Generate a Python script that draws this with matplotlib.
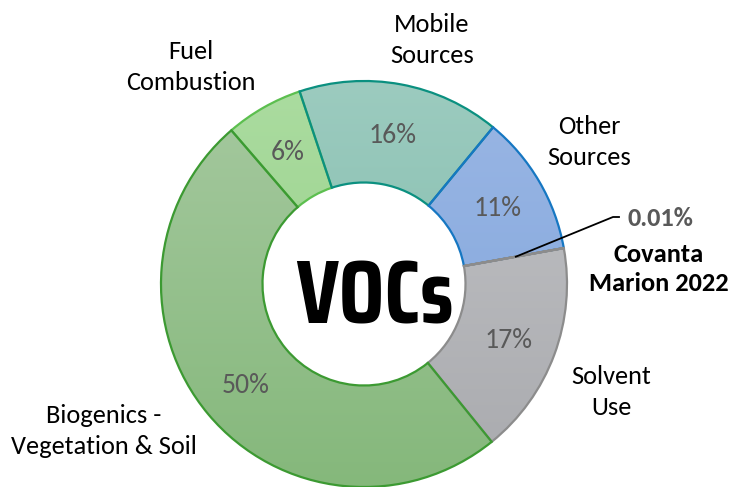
import numpy as np
import matplotlib
matplotlib.use("Agg")
import matplotlib.pyplot as plt
from matplotlib.colors import LinearSegmentedColormap

# data (clockwise from the Fuel Combustion slice)
sources = ["Fuel\nCombustion", "Mobile\nSources", "Other\nSources", "Covanta\nMarion 2022",
           "Solvent\nUse", "Biogenics -\nVegetation & Soil"]
shares = [6.2, 16.1, 11.2, 0.01, 17.0, 49.5]
pct_text = ["6%", "16%", "11%", "0.01%", "17%", "50%"]

# styling
top_cols = ["#abdca0", "#9ccbbf", "#9ab6e4", "#c2c3c6", "#c2c3c6", "#a6c9a0"]
bot_cols = ["#93cd84", "#7bb8a7", "#7fa5dc", "#a9aaae", "#a9aaae", "#85b87b"]
edge_cols = ["#5cbf4f", "#0b9080", "#1677c2", "#8c8c8c", "#8c8c8c", "#3c9a32"]
label_pos = [(191, 420), (432, 447), (589, 345), None, (611, 95), (104, 56)]
font = ["Carlito", "Lato", "DejaVu Sans"]

fig = plt.figure(figsize=(7.3, 4.87), dpi=100)
ax = fig.add_axes([0, 0, 1, 1])

cx, cy, R = 364, 203, 203
wedges, _ = ax.pie(shares, startangle=130.8, counterclock=False, center=(cx, cy),
                   radius=R, frame=True,
                   wedgeprops=dict(width=R * 0.5, linewidth=1.6))
ax.set_xlim(0, 730)
ax.set_ylim(0, 487)
ax.axis("off")

# vertical gradient fill clipped to each wedge
grad = np.linspace(0, 1, 256).reshape(-1, 1)
for w, t, b, e in zip(wedges, top_cols, bot_cols, edge_cols):
    w.set_facecolor("none")
    w.set_edgecolor(e)
    w.set_zorder(3)
    cmap = LinearSegmentedColormap.from_list("g", [b, t])
    im = ax.imshow(grad, cmap=cmap, aspect="auto", origin="lower",
                   extent=(cx - R, cx + R, cy - R, cy + R), zorder=2)
    im.set_clip_path(w)

for i, w in enumerate(wedges):
    if i == 3:
        continue
    ang = np.deg2rad((w.theta1 + w.theta2) / 2)
    px, py = cx + 0.76 * R * np.cos(ang), cy + 0.76 * R * np.sin(ang)
    ax.text(px, py - 3, pct_text[i], ha="center", va="center", fontsize=20,
            color="#595959", family=font, zorder=5)
    lx, ly = label_pos[i]
    ax.text(lx, ly, sources[i], ha="center", va="center", fontsize=19,
            color="black", family=font, linespacing=1.37, zorder=5)

# Covanta callout
w = wedges[3]
ang = np.deg2rad((w.theta1 + w.theta2) / 2)
sx, sy = cx + 0.76 * R * np.cos(ang), cy + 0.76 * R * np.sin(ang)
ax.plot([sx, 613, 619], [sy, 270, 270], color="black", lw=1.3, zorder=6)
ax.text(660, 269, pct_text[3], ha="center", va="center", fontsize=19,
        color="#595959", family=font, weight="bold", zorder=6)
ax.text(659, 218, sources[3], ha="center", va="center", fontsize=19,
        color="black", family=font, weight="bold", linespacing=1.3, zorder=6)

# centre title
ax.text(cx + 10, cy - 15, "VOCs", ha="center", va="center", fontsize=65,
        family=["Saira Condensed", "DejaVu Sans"], weight="bold",
        color="black", zorder=6)

fig.savefig("out.png", dpi=100)
